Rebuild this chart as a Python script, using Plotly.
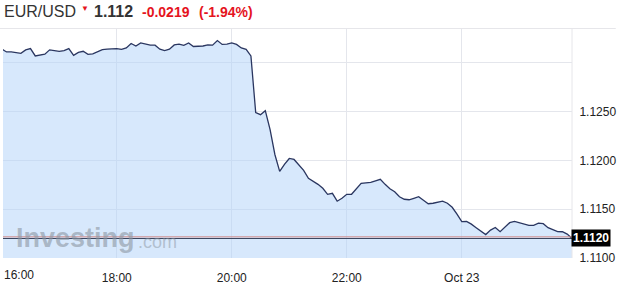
import pandas as pd
import plotly.graph_objects as go

# ---- data (EUR/USD, 5-minute closes, 22 Oct 2015 16:00 -> 23 Oct 01:55) ----
start_time = "2015-10-22 16:00"
prices = [
    1.13143, 1.13112, 1.13112, 1.13107, 1.13097, 1.13133, 1.13146, 1.13071,
    1.13077, 1.13089, 1.13133, 1.13126, 1.13117, 1.13126, 1.13146, 1.13077,
    1.13107, 1.13119, 1.13087, 1.13092, 1.13115, 1.13136, 1.13141, 1.13143,
    1.13146, 1.13138, 1.13153, 1.13199, 1.13173, 1.13204, 1.13189, 1.13181,
    1.13181, 1.13140, 1.13126, 1.13140, 1.13184, 1.13191, 1.13179, 1.13204,
    1.13168, 1.13170, 1.13173, 1.13184, 1.13181, 1.13228, 1.13189, 1.13191,
    1.13204, 1.13189, 1.13153, 1.13138, 1.13071, 1.12490, 1.12469, 1.12510,
    1.12316, 1.12061, 1.11888, 1.11959, 1.12020, 1.12010, 1.11959, 1.11898,
    1.11816, 1.11789, 1.11755, 1.11714, 1.11653, 1.11663, 1.11582, 1.11612,
    1.11653, 1.11653, 1.11704, 1.11765, 1.11770, 1.11776, 1.11791, 1.11806,
    1.11755, 1.11709, 1.11679, 1.11628, 1.11602, 1.11597, 1.11612, 1.11628,
    1.11592, 1.11556, 1.11561, 1.11571, 1.11582, 1.11561, 1.11520, 1.11449,
    1.11372, 1.11374, 1.11347, 1.11311, 1.11276, 1.11240, 1.11286, 1.11313,
    1.11270, 1.11316, 1.11362, 1.11376, 1.11365, 1.11350, 1.11335, 1.11335,
    1.11357, 1.11352, 1.11311, 1.11291, 1.11270, 1.11269, 1.11245, 1.11200,
]
times = pd.date_range(start_time, periods=len(prices), freq="5min")

last_price = 1.1120
ref_price = 1.11217

x_tick_vals = ["2015-10-22 18:00", "2015-10-22 20:00", "2015-10-22 22:00", "2015-10-23 00:00"]
x_tick_text = ["18:00", "20:00", "22:00", "Oct 23"]
first_tick_text = "16:00"

y_tick_vals = [1.1100, 1.1150, 1.1200, 1.1250, 1.1300]
y_tick_text = ["1.1100", "1.1150", "1.1200", "1.1250", ""]

title_pair = "EUR/USD"
title_last = "1.112"
title_change = "-0.0219"
title_pct = "(-1.94%)"

FONT = "Arial, 'Liberation Sans', sans-serif"
W, H = 619, 288
L, R, T, B = 3, 44, 29, 29
PW, PH = W - L - R, H - T - B


def px(xp):
    return (xp - L) / PW


def py(yp):
    return (H - B - yp) / PH


fig = go.Figure()
fig.add_trace(go.Scatter(
    x=times, y=prices, mode="lines",
    line=dict(color="#2a3660", width=1.3),
    fill="tozeroy", fillcolor="rgba(176,210,250,0.5)",
    hoverinfo="skip",
))

fig.update_layout(
    width=W, height=H,
    margin=dict(l=L, r=R, t=T, b=B),
    paper_bgcolor="white", plot_bgcolor="white",
    showlegend=False,
    font=dict(family=FONT, size=12, color="#222"),
    xaxis=dict(
        range=["2015-10-22 16:01:20", "2015-10-23 01:55"],
        tickvals=x_tick_vals, ticktext=x_tick_text,
        showgrid=True, gridcolor="#e4e6ec", gridwidth=1,
        zeroline=False, showline=False,
        ticks="outside", ticklen=9, tickcolor="rgba(0,0,0,0)",
        tickfont=dict(family=FONT, size=12, color="#222"),
        fixedrange=True,
    ),
    yaxis=dict(
        side="right",
        range=[1.1100, 1.13347],
        tickvals=y_tick_vals, ticktext=y_tick_text,
        showgrid=True, gridcolor="#e4e6ec", gridwidth=1,
        zeroline=False, showline=False,
        ticks="outside", ticklen=4, tickcolor="rgba(0,0,0,0)",
        tickfont=dict(family=FONT, size=12, color="#222"),
        fixedrange=True,
    ),
)

shapes = [
    # header separator / top border
    dict(type="line", xref="paper", yref="paper", x0=px(0), x1=px(619), y0=py(28.5), y1=py(28.5),
         line=dict(color="#e6e6ea", width=1)),
    # right border
    dict(type="line", xref="paper", yref="paper", x0=1, x1=1, y0=0, y1=py(29),
         line=dict(color="#e6e6ea", width=1)),
    # reference line (red) and last price line
    dict(type="line", xref="paper", yref="y", x0=0, x1=1, y0=ref_price, y1=ref_price,
         line=dict(color="#d08a8a", width=1)),
    dict(type="line", xref="paper", yref="y", x0=0, x1=1, y0=last_price, y1=last_price,
         line=dict(color="#3a4660", width=1)),
]
fig.update_layout(shapes=shapes)

ann = []
# watermark
ann.append(dict(xref="paper", yref="paper", x=px(14), y=py(239), xanchor="left", yanchor="middle",
                text="<b>Investing</b>", showarrow=False,
                font=dict(family=FONT, size=27, color="rgba(140,150,162,0.6)")))
ann.append(dict(xref="paper", yref="paper", x=px(137), y=py(243), xanchor="left", yanchor="middle",
                text=".com", showarrow=False,
                font=dict(family=FONT, size=18, color="rgba(140,150,162,0.5)")))
# first x tick label (shifted inside)
ann.append(dict(xref="paper", yref="paper", x=px(2), y=py(276), xanchor="left", yanchor="middle",
                text=first_tick_text, showarrow=False,
                font=dict(family=FONT, size=12, color="#222")))
# last price box
ann.append(dict(xref="paper", yref="y", x=1, y=last_price, xanchor="left", yanchor="middle",
                text="<b>" + f"{last_price:.4f}" + "</b>", showarrow=False,
                bgcolor="black", borderpad=1, xshift=-1,
                font=dict(family=FONT, size=12, color="white")))
# header
ann.append(dict(xref="paper", yref="paper", x=px(2), y=py(11), xanchor="left", yanchor="middle",
                text=title_pair, showarrow=False,
                font=dict(family=FONT, size=16, color="#333")))
ann.append(dict(xref="paper", yref="paper", x=px(79), y=py(8), xanchor="left", yanchor="middle",
                text="▼", showarrow=False,
                font=dict(family=FONT, size=8, color="#e5141e")))
ann.append(dict(xref="paper", yref="paper", x=px(92), y=py(11), xanchor="left", yanchor="middle",
                text="<b>" + title_last + "</b>", showarrow=False,
                font=dict(family=FONT, size=16, color="#333")))
ann.append(dict(xref="paper", yref="paper", x=px(141), y=py(11.5), xanchor="left", yanchor="middle",
                text="<b>" + title_change + "</b>", showarrow=False,
                font=dict(family=FONT, size=14, color="#e5141e")))
ann.append(dict(xref="paper", yref="paper", x=px(198), y=py(11.5), xanchor="left", yanchor="middle",
                text="<b>" + title_pct + "</b>", showarrow=False,
                font=dict(family=FONT, size=14, color="#e5141e")))
fig.update_layout(annotations=ann)

fig.write_html("out.html", config={"displayModeBar": False})
